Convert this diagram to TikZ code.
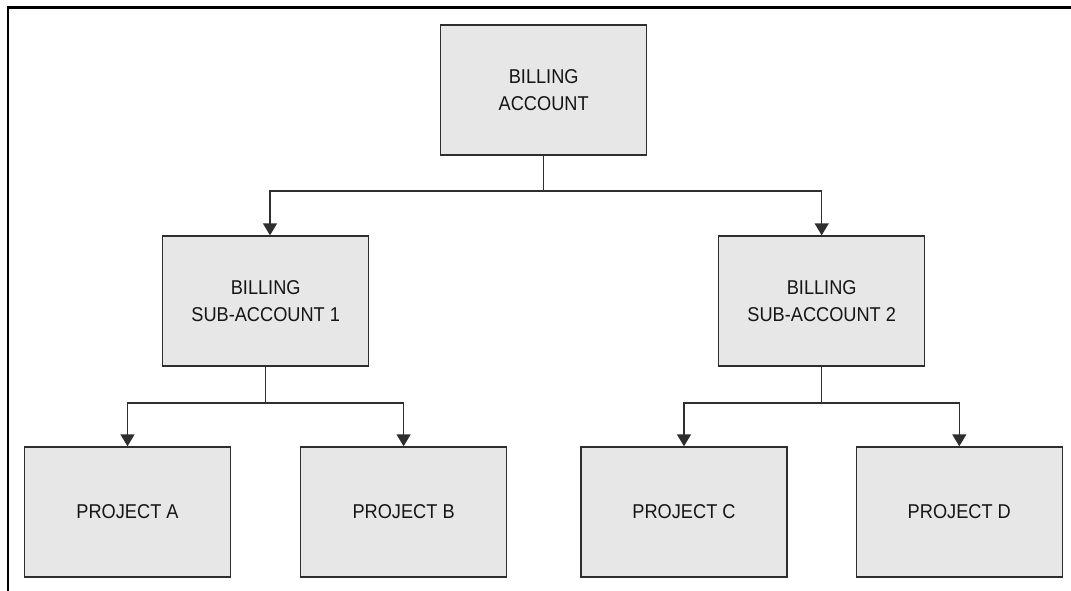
\documentclass[tikz,border=0pt]{standalone}
\usepackage{fontspec}
\setmainfont{Liberation Sans}[FakeStretch=0.91]
\usetikzlibrary{arrows.meta}
\definecolor{boxfill}{HTML}{E6E7E6}
\definecolor{boxline}{HTML}{2E2E2E}
\definecolor{txt}{HTML}{151515}
\tikzset{
  box/.style={draw=boxline, fill=boxfill, line width=1.4pt, minimum width=206pt, minimum height=130pt,
    inner sep=0pt, align=center, text=txt, font=\fontsize{20pt}{26.7pt}\selectfont},
  conn/.style={draw=boxline, line width=1.4pt},
  arr/.style={conn, -{Triangle[width=14pt,length=12pt]}},
  frame/.style={draw=black, line width=2.8pt}
}
\begin{document}
\begin{tikzpicture}[x=1pt,y=-1pt]
\useasboundingbox (0,0) rectangle (1071,591);
\fill[white] (0,0) rectangle (1071,591);
% frame (top and left only)
\coordinate (ftl) at (8,7.8);
\coordinate (ftr) at (1071,7.8);
\coordinate (fbl) at (8,591);
\draw[frame] (ftr) -- (ftl) -- (fbl);
% nodes
\node[box] (top) at (543.7,90) {BILLING\\ACCOUNT};
\node[box] (sub1) at (265.7,301) {BILLING\\SUB-ACCOUNT 1};
\node[box] (sub2) at (821.7,301) {BILLING\\SUB-ACCOUNT 2};
\node[box] (pA) at (127.5,512) {PROJECT A};
\node[box] (pB) at (403.6,512) {PROJECT B};
\node[box] (pC) at (684,512) {PROJECT C};
\node[box] (pD) at (959.3,512) {PROJECT D};
% junctions
\coordinate (j0) at (543.7,191);
\coordinate (j1) at (265.7,403);
\coordinate (j2) at (821.7,403);
% connectors
\draw[conn] (top.south) -- (j0);
\draw[arr] (j0) -| ([xshift=4.3pt]sub1.north);
\draw[arr] (j0) -| (sub2.north);
\draw[conn] (sub1.south) -- (j1);
\draw[arr] (j1) -| (pA.north);
\draw[arr] (j1) -| (pB.north);
\draw[conn] (sub2.south) -- (j2);
\draw[arr] (j2) -| (pC.north);
\draw[arr] (j2) -| (pD.north);
\end{tikzpicture}
\end{document}
